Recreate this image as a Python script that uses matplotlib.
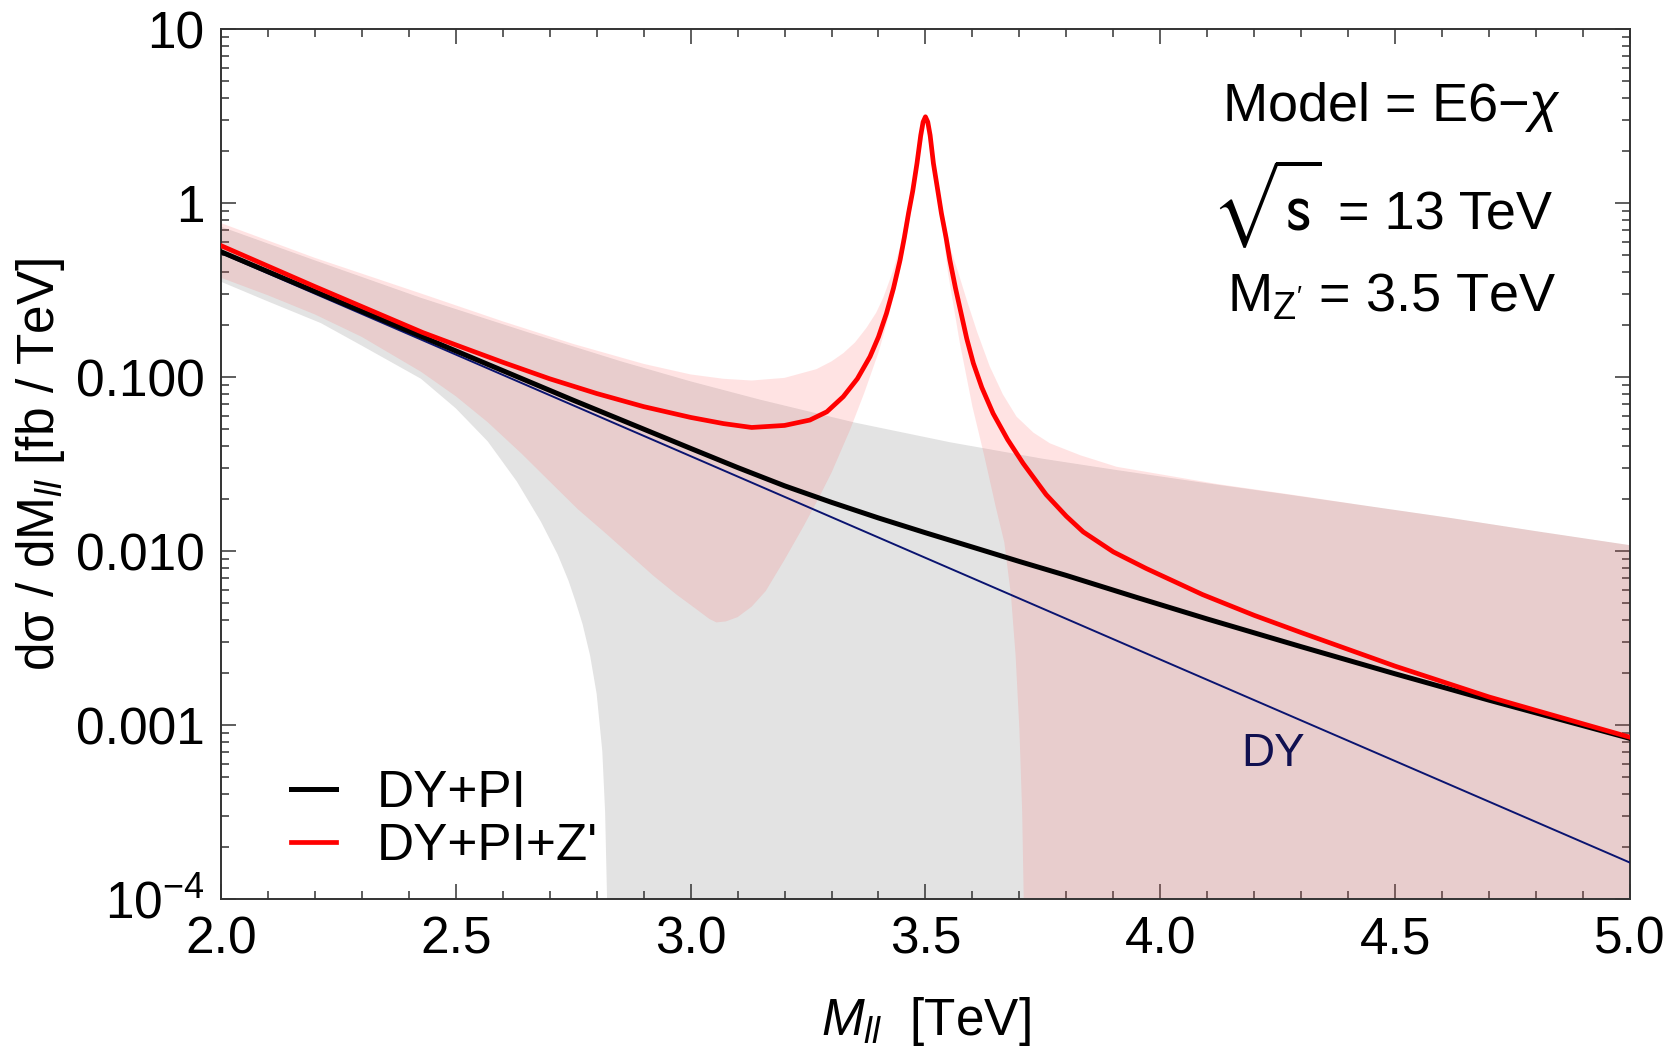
import numpy as np
import matplotlib
matplotlib.use('Agg')
from matplotlib import pyplot as plt
from matplotlib.ticker import MultipleLocator, LogLocator, NullFormatter

plt.rcParams['font.family'] = ['Liberation Sans', 'DejaVu Sans']
plt.rcParams['mathtext.fontset'] = 'custom'
plt.rcParams['mathtext.rm'] = 'Liberation Sans'
plt.rcParams['mathtext.it'] = 'Liberation Sans:italic'
plt.rcParams['mathtext.bf'] = 'Liberation Sans:bold'

# pure Drell-Yan (thin navy line)
dy_m = [2.0, 2.5, 3.0, 3.5, 4.0, 4.5, 5.0]
dy_xs = [0.516, 0.1346, 0.0351, 0.00914, 0.00238, 0.000621, 0.000162]

# DY + photon induced
bg_m = [2.0, 2.25, 2.5, 2.75, 3.0, 3.1, 3.2, 3.3, 3.4, 3.5, 3.6, 3.7, 3.8,
        3.95, 4.1, 4.3, 4.5, 4.7, 5.0]
bg_xs = [0.525, 0.272, 0.1413, 0.0736, 0.0389, 0.0302, 0.0237, 0.01905,
         0.01549, 0.01274, 0.01054, 0.00871, 0.00724, 0.00541, 0.00407,
         0.00282, 0.00197, 0.00139, 0.000838]

# DY + PI + Z' (resonance at 3.5 TeV)
sig_m = [2.0, 2.2, 2.43, 2.5, 2.6, 2.7, 2.8, 2.9, 3.0, 3.07, 3.13, 3.2,
         3.254, 3.29, 3.325, 3.355, 3.382, 3.40, 3.417, 3.432, 3.446, 3.455,
         3.464, 3.473, 3.482, 3.49, 3.495, 3.5,
         3.505, 3.51, 3.517, 3.527, 3.534, 3.544, 3.552, 3.564, 3.576, 3.588,
         3.602, 3.62, 3.644, 3.675, 3.708, 3.757, 3.80, 3.836, 3.90, 3.97,
         4.09, 4.2, 4.3, 4.5, 4.7, 5.0]
sig_xs = [0.569, 0.331, 0.180, 0.153, 0.1216, 0.0977, 0.0804, 0.0676, 0.0586,
          0.0540, 0.0513, 0.0527, 0.0566, 0.0631, 0.0771, 0.0977, 0.131,
          0.170, 0.232, 0.324, 0.470, 0.631, 0.873, 1.175, 1.69, 2.45, 2.92,
          3.13,
          2.92, 2.45, 1.69, 1.148, 0.873, 0.631, 0.470, 0.324, 0.232, 0.166,
          0.120, 0.0871, 0.0618, 0.0437, 0.0319, 0.0211, 0.01585, 0.01288,
          0.00989, 0.00794, 0.00562, 0.00427, 0.00340, 0.00218, 0.00145,
          0.000851]

# uncertainty band of DY+PI (goes negative above 2.82 TeV -> off scale)
bg_band_up_m = [2.0, 2.2, 2.426, 2.65, 2.852, 3.0, 3.148, 3.35, 3.552, 3.75,
                3.907, 4.1, 4.262, 4.45, 4.617, 4.8, 5.0]
bg_band_up = [0.731, 0.468, 0.285, 0.182, 0.123, 0.0944, 0.0741, 0.0547,
              0.0422, 0.0339, 0.0292, 0.0245, 0.0213, 0.0180, 0.0155, 0.0130,
              0.0108]
bg_band_lo_m = [2.0, 2.1, 2.213, 2.3, 2.426, 2.5, 2.568, 2.63, 2.681, 2.717,
                2.74, 2.755, 2.77, 2.786, 2.80, 2.812, 2.818, 2.823, 2.826,
                5.0]
bg_band_lo = [0.353, 0.272, 0.204, 0.1514, 0.0977, 0.0661, 0.0427, 0.0251,
              0.01479, 0.00955, 0.00676, 0.00513, 0.00380, 0.00251, 0.00151,
              0.000708, 0.000316, 7.9e-5, 1e-5, 1e-5]

# uncertainty band of DY+PI+Z'
sig_band_up_m = [2.0, 2.2, 2.426, 2.6, 2.75, 2.9, 3.0, 3.07, 3.13, 3.2,
                 3.268, 3.30, 3.325, 3.35, 3.374, 3.395, 3.41, 3.431, 3.446,
                 3.464, 3.482, 3.49, 3.5, 3.51, 3.517, 3.534, 3.552, 3.57,
                 3.588, 3.61, 3.637, 3.665, 3.694, 3.73, 3.765, 3.83, 3.907,
                 4.12, 4.3, 4.45, 4.617, 4.8, 5.0]
sig_band_up = [0.767, 0.484, 0.302, 0.209, 0.155, 0.119, 0.1035, 0.0977,
               0.0955, 0.0989, 0.111, 0.123, 0.137, 0.158, 0.191, 0.234,
               0.285, 0.407, 0.562, 1.0, 1.86, 2.63, 3.24, 2.63, 1.86, 1.0,
               0.562, 0.398, 0.277, 0.182, 0.115, 0.0794, 0.0592, 0.0479,
               0.0416, 0.0355, 0.0305, 0.0243, 0.0207, 0.0180, 0.0155,
               0.0130, 0.0108]
sig_band_lo_m = [2.0, 2.1, 2.2, 2.3, 2.426, 2.5, 2.568, 2.64, 2.70, 2.76,
                 2.82, 2.87, 2.92, 2.97, 3.01, 3.04, 3.055, 3.075, 3.10, 3.13,
                 3.16, 3.20, 3.24, 3.27, 3.30, 3.34, 3.37, 3.40, 3.417, 3.43,
                 3.445, 3.465, 3.48, 3.5, 3.52, 3.535, 3.548, 3.573, 3.60,
                 3.625, 3.65, 3.668, 3.682, 3.692, 3.70, 3.706, 3.71, 3.712,
                 5.0]
sig_band_lo = [0.372, 0.295, 0.229, 0.170, 0.1072, 0.0776, 0.0550, 0.0363,
               0.0251, 0.01738, 0.01259, 0.00955, 0.00724, 0.00562, 0.00468,
               0.00407, 0.00389, 0.00394, 0.00417, 0.00479, 0.00589, 0.00891,
               0.01380, 0.0195, 0.0282, 0.0501, 0.0813, 0.138, 0.200, 0.275,
               0.398, 0.759, 1.41, 2.88, 1.41, 0.759, 0.398, 0.158, 0.0676,
               0.0355, 0.0178, 0.0112, 0.00562, 0.00251, 0.000955, 0.000316,
               7.9e-5, 1e-5, 1e-5]

y_ticks = [1e-4, 1e-3, 1e-2, 1e-1, 1, 10]
y_tick_labels = [r'$10^{-4}$', '0.001', '0.010', '0.100', '1', '10']
x_ticks = [2.0, 2.5, 3.0, 3.5, 4.0, 4.5, 5.0]


def band_polygon(m_up, v_up, m_lo, v_lo):
    xs = np.concatenate([m_up, m_lo[::-1]])
    ys = np.concatenate([v_up, v_lo[::-1]])
    return xs, ys


fig = plt.figure(figsize=(16.75, 10.47), dpi=100)
ax = fig.add_axes([0.1319, 0.1413, 0.8412, 0.8310])
ax.set_yscale('log')

xs, ys = band_polygon(bg_band_up_m, bg_band_up, bg_band_lo_m, bg_band_lo)
ax.fill(xs, ys, color='#e3e3e3', lw=0, zorder=1)
xs, ys = band_polygon(sig_band_up_m, sig_band_up, sig_band_lo_m, sig_band_lo)
ax.fill(xs, ys, color=(1.0, 0.41, 0.41), alpha=0.18, lw=0, zorder=2)

ax.plot(dy_m, dy_xs, color='#0a1470', lw=1.4, zorder=3)
l_bg, = ax.plot(bg_m, bg_xs, color='black', lw=3.6, zorder=4,
                label='DY+PI', solid_joinstyle='round')
l_sig, = ax.plot(sig_m, sig_xs, color='#ff0000', lw=3.4, zorder=5,
                 label="DY+PI+Z'", solid_joinstyle='round')

ax.set_xlim(2.0, 5.0)
ax.set_ylim(1e-4, 10)

ax.set_xticks(x_ticks, ['%.1f' % v for v in x_ticks])
ax.xaxis.set_minor_locator(MultipleLocator(0.1))
ax.set_yticks(y_ticks, y_tick_labels)
ax.yaxis.set_minor_locator(LogLocator(base=10, subs=np.arange(2, 10)))
ax.yaxis.set_minor_formatter(NullFormatter())

ax.tick_params(which='both', direction='in', top=True, right=True,
               color='#333333', width=1.1, labelsize=37)
ax.tick_params(which='major', length=11, pad=12)
ax.tick_params(which='minor', length=5.5)
for sp in ax.spines.values():
    sp.set_linewidth(1.4)
    sp.set_color('#333333')

ax.set_xlabel(r'$M_{ll}$  [TeV]', fontsize=37, labelpad=22)
ax.set_ylabel('dσ / dM$_{ll}$ [fb / TeV]', fontsize=37, labelpad=6)

ax.text(0.831, 0.910, r'Model = E6$-\chi$', transform=ax.transAxes,
        fontsize=39, ha='center', va='center')
# STIX sans gives a tall root sign that drops below the baseline
ax.text(0.7814, 0.769, r'$\sqrt{\mathrm{s}}$', transform=ax.transAxes,
        fontsize=50, math_fontfamily='stixsans', ha='right', va='baseline')
ax.text(0.7928, 0.769, '= 13 TeV', transform=ax.transAxes,
        fontsize=39, ha='left', va='baseline')
ax.text(0.831, 0.692, r"M$_{\mathrm{Z'}}$ = 3.5 TeV", transform=ax.transAxes,
        fontsize=39, ha='center', va='center')
ax.text(4.24, 6.8e-4, 'DY', color='#101050', fontsize=33,
        ha='center', va='center')

ax.legend(handles=[l_bg, l_sig], loc='upper left',
          bbox_to_anchor=(0.0497, 0.150), frameon=False, fontsize=37,
          handlelength=0.87, handletextpad=0.8, labelspacing=0.09,
          borderpad=0, borderaxespad=0)

fig.savefig('out.png', dpi=100)
